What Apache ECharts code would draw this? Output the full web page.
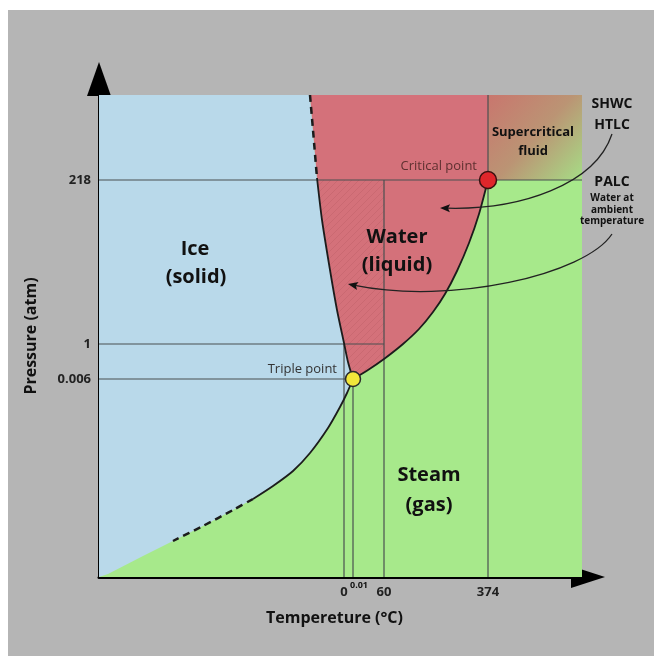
<!DOCTYPE html>
<html><head><meta charset="utf-8">
<script src="https://cdn.jsdelivr.net/npm/echarts@6/dist/echarts.min.js"></script>
<style>html,body{margin:0;padding:0;background:#fff;} #c{width:654px;height:656px;}</style>
</head><body><div id="c"></div>
<script>
// ===== Data (schematic diagram units: x grows with temperature, y with pressure) =====
const xMax = 483, yMax = 482;
const pressureTickLabels = ['218', '1', '0.006'];
const pressureTickPos = [397, 233, 198];
const tempTickLabels = ['0', '60', '374'];
const tempTickPos = [245, 285, 389];
const tripleTempLabel = '0.01';
const tripleTempPos = 254;
const triplePoint = [254, 198];
const criticalPoint = [389, 397];
// melting (solid/liquid) curve, top -> triple point
const meltingDashed = [[211,482],[214,447],[218,399]];
const meltingSolid = [[218,399],[223,357],[231,307],[238,267],[245,234],[249,215],[254,198]];
// vaporisation (liquid/gas) curve, triple -> critical point
const vaporCurve = [[254,198],[269,207],[285,218],[304,233],[320,248],[334,265],[346,283],[358,306],[370,334],[380,363],[389,397]];
// sublimation (solid/gas) curve, triple point -> origin
const sublimSolid = [[254,198],[248,184],[241,170],[229,149],[211,124],[194,106],[174,91],[154,78]];
const sublimDashed = [[154,78],[134,67],[104,51],[74,36]];
const sublimTail = [[74,36],[44,21],[9,3],[0,0]];
// annotation arrows (start, control1, control2, end)
const arrowSHWC = [[513,443],[496,392],[421,367],[341,369]];
const arrowPALC = [[513,343],[486,302],[351,272],[249,293]];

// ===== derived geometry =====
const meltingAll = meltingDashed.concat(meltingSolid.slice(1));
const sublimAll = sublimSolid.concat(sublimDashed.slice(1), sublimTail.slice(1));
const plotRect = [[0,0],[xMax,0],[xMax,yMax],[0,yMax]];
const icePoly = sublimAll.slice().reverse().concat(meltingAll.slice().reverse().slice(1), [[0,yMax]]);
const waterPoly = vaporCurve.concat([[criticalPoint[0],yMax]], meltingAll.slice(0,-1));
const superPoly = [[criticalPoint[0],criticalPoint[1]],[xMax,criticalPoint[1]],[xMax,yMax],[criticalPoint[0],yMax]];
const hatchPoly = [[218,pressureTickPos[0]],[tempTickPos[1],pressureTickPos[0]]]
  .concat(vaporCurve.slice(0,3).reverse(), meltingSolid.slice().reverse().slice(1));

const refLines = [
  [0, pressureTickPos[0], xMax, pressureTickPos[0]],
  [0, pressureTickPos[1], tempTickPos[1], pressureTickPos[1]],
  [0, pressureTickPos[2], tripleTempPos, pressureTickPos[2]],
  [tempTickPos[0], 0, tempTickPos[0], pressureTickPos[1]],
  [tripleTempPos, 0, tripleTempPos, pressureTickPos[2]],
  [tempTickPos[1], 0, tempTickPos[1], pressureTickPos[0]],
  [tempTickPos[2], 0, tempTickPos[2], yMax]
];

// hatch pattern
const pc = document.createElement('canvas');
pc.width = 7; pc.height = 7;
const pctx = pc.getContext('2d');
pctx.strokeStyle = 'rgba(150,60,70,0.16)';
pctx.lineWidth = 1;
pctx.beginPath(); pctx.moveTo(0,7); pctx.lineTo(7,0); pctx.stroke();

const FONT = '"Open Sans", "DejaVu Sans", sans-serif';
const regions = [
  {pts: plotRect, fill: '#a7e98b'},
  {pts: icePoly, fill: '#b9d9ea'},
  {pts: waterPoly, fill: '#d4717a'},
  {pts: superPoly, fill: new echarts.graphic.LinearGradient(0,0,1,1,[
      {offset:0, color:'#c9766e'},{offset:0.5, color:'#bb9474'},{offset:1, color:'#a6dd86'}])},
  {pts: hatchPoly, fill: {image: pc, repeat: 'repeat'}}
];

const annotations = [
  {t:'Ice', p:[96,328], s:20, w:'bold'},
  {t:'(solid)', p:[97,300], s:20, w:'bold'},
  {t:'Water', p:[298,340], s:20, w:'bold'},
  {t:'(liquid)', p:[298,312], s:20, w:'bold'},
  {t:'Steam', p:[330,102], s:20, w:'bold'},
  {t:'(gas)', p:[330,72], s:20, w:'bold'},
  {t:'Supercritical', p:[434,445], s:13, w:'bold'},
  {t:'fluid', p:[434,426], s:13, w:'bold'},
  {t:'Critical point', p:[378,411], s:13, w:'normal', a:'right', c:'#5e3030'},
  {t:'Triple point', p:[238,208], s:13, w:'normal', a:'right', c:'#333'},
  {t:'SHWC', p:[513,473], s:14, w:'bold'},
  {t:'HTLC', p:[513,452], s:14, w:'bold'},
  {t:'PALC', p:[513,395], s:14, w:'bold'},
  {t:'Water at', p:[513,379], s:10, w:'bold'},
  {t:'ambient', p:[513,367], s:10, w:'bold'},
  {t:'temperature', p:[513,356], s:10, w:'bold'},
  {t:tripleTempLabel, p:[tripleTempPos+6,-8], s:9, w:'bold'}
];

const chart = echarts.init(document.getElementById('c'));
const lineSeries = (data, dashed) => ({
  type:'line', data, symbol:'none', smooth:0.25, z:5, silent:true, clip:false,
  lineStyle:{color:'#1c1c1c', width: dashed?2.5:1.8, type: dashed?[7,5]:'solid'}
});

chart.setOption({
  backgroundColor:'#b5b5b5',
  animation:false,
  graphic:[
    {type:'rect', shape:{x:0,y:0,width:654,height:10}, style:{fill:'#fff'}},
    {type:'rect', shape:{x:0,y:0,width:8,height:656}, style:{fill:'#fff'}}
  ],
  grid:{left:99, top:95, width:483, height:482, containLabel:false},
  xAxis:{
    type:'value', min:0, max:xMax,
    splitLine:{show:false}, axisTick:{show:false},
    axisLine:{show:true, lineStyle:{color:'#000', width:3}, symbol:['none','triangle'], symbolSize:[22,34], symbolOffset:[0,6]},
    axisLabel:{customValues: tempTickPos, formatter: v => tempTickLabels[tempTickPos.indexOf(v)],
      margin:9, fontSize:13, fontWeight:'bold', color:'#222', fontFamily:FONT},
    name:'Tempereture (°C)', nameLocation:'middle', nameGap:33,
    nameTextStyle:{fontSize:16, fontWeight:'bold', color:'#111', fontFamily:FONT, padding:[0,12,0,0]}
  },
  yAxis:{
    type:'value', min:0, max:yMax,
    splitLine:{show:false}, axisTick:{show:false},
    axisLine:{show:true, lineStyle:{color:'#000', width:3}, symbol:['none','triangle'], symbolSize:[24,34], symbolOffset:[0,16]},
    axisLabel:{customValues: pressureTickPos, formatter: v => pressureTickLabels[pressureTickPos.indexOf(v)],
      margin:8, fontSize:13, fontWeight:'bold', color:'#222', fontFamily:FONT},
    name:'Pressure (atm)', nameLocation:'middle', nameGap:60, nameRotate:90,
    nameTextStyle:{fontSize:16, fontWeight:'bold', color:'#111', fontFamily:FONT}
  },
  series:[
    {type:'custom', z:1, silent:true, data: regions.map((r,i)=>[i,0]),
      renderItem:(params, api) => {
        const r = regions[params.dataIndex];
        return {type:'polygon', shape:{points: r.pts.map(p=>api.coord(p))}, style:{fill:r.fill}};
      }},
    {type:'custom', z:3, silent:true, data: refLines,
      renderItem:(params, api) => {
        const a = api.coord([api.value(0), api.value(1)]);
        const b = api.coord([api.value(2), api.value(3)]);
        return {type:'line', shape:{x1:a[0],y1:a[1],x2:b[0],y2:b[1]}, style:{stroke:'#4a5050', lineWidth:1.2}};
      }},
    lineSeries(meltingDashed, true),
    lineSeries(meltingSolid, false),
    lineSeries(vaporCurve, false),
    lineSeries(sublimSolid, false),
    lineSeries(sublimDashed, true),
    {type:'custom', z:6, silent:true, data:[0,1].map(i=>[i,0]),
      renderItem:(params, api) => {
        const pts = [arrowSHWC, arrowPALC][params.dataIndex].map(p=>api.coord(p));
        const [p0,c1,c2,p3] = pts;
        let dx = p3[0]-c2[0], dy = p3[1]-c2[1]; const L = Math.hypot(dx,dy); dx/=L; dy/=L;
        const bx = p3[0]-dx*10, by = p3[1]-dy*10;
        const nx = -dy, ny = dx;
        return {type:'group', children:[
          {type:'bezierCurve', shape:{x1:p0[0],y1:p0[1],cpx1:c1[0],cpy1:c1[1],cpx2:c2[0],cpy2:c2[1],x2:bx+dx*3,y2:by+dy*3},
            style:{stroke:'#222', lineWidth:1.3, fill:null}},
          {type:'polygon', shape:{points:[[p3[0],p3[1]],[bx+nx*4,by+ny*4],[bx+dx*2,by+dy*2],[bx-nx*4,by-ny*4]]}, style:{fill:'#111'}}
        ]};
      }},
    {type:'scatter', z:7, silent:true, data:[triplePoint], symbolSize:15,
      itemStyle:{color:'#f2e63a', borderColor:'#2a2a2a', borderWidth:1.5, opacity:1}},
    {type:'scatter', z:7, silent:true, data:[criticalPoint], symbolSize:17,
      itemStyle:{color:'#e0262b', borderColor:'#3a1010', borderWidth:1.5, opacity:1}},
    {type:'custom', z:8, silent:true, data: annotations.map(a=>a.p),
      renderItem:(params, api) => {
        const a = annotations[params.dataIndex];
        const c = api.coord(a.p);
        return {type:'text', x:c[0], y:c[1], style:{text:a.t, fill:a.c||'#111', fontSize:a.s, fontWeight:a.w,
          fontFamily:FONT, align:a.a||'center', verticalAlign:'middle'}};
      }}
  ]
});
</script></body></html>
